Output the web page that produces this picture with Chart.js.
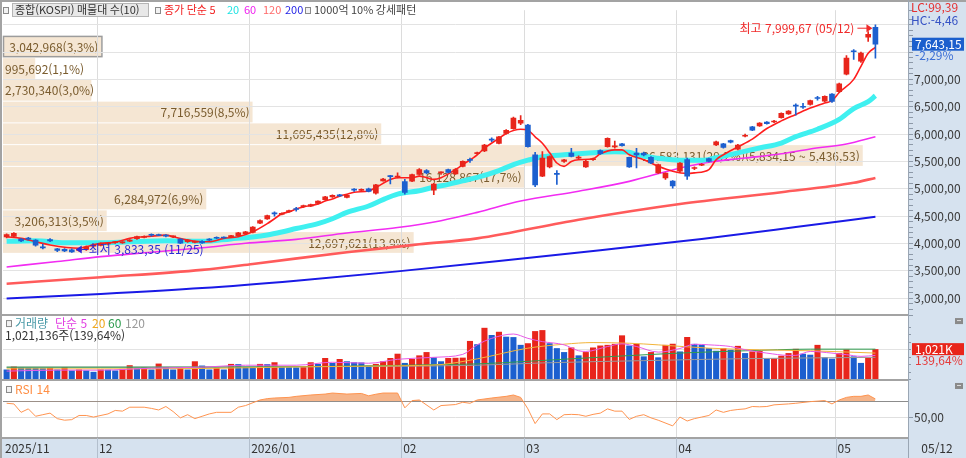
<!DOCTYPE html>
<html lang="ko">
<head>
<meta charset="UTF-8" />
<title>종합(KOSPI) 일봉</title>
<script src="https://cdn.jsdelivr.net/npm/chart.js"></script>
<style>
  html, body { margin: 0; padding: 0; background: #d6e2ef; }
  #wrap { width: 966px; height: 458px; position: relative; }
</style>
</head>
<body>
<div id="wrap"><canvas id="kospi"></canvas></div>
<script>
  // trading days shown, per month
  const tradingDays = [
    ['2025/11', [12,13,14,17,18,19,20,21,24,25,26,27,28]],
    ['2025/12', [1,2,3,4,5,8,9,10,11,12,15,16,17,18,19,22,23,24,26,29,30]],
    ['2026/01', [2,5,6,7,8,9,12,13,14,15,16,19,20,21,22,23,26,27,28,29,30]],
    ['2026/02', [2,3,4,5,6,9,10,11,12,13,19,20,23,24,25,26,27]],
    ['2026/03', [3,4,5,6,9,10,11,12,13,16,17,18,19,20,23,24,25,26,27,30,31]],
    ['2026/04', [1,2,3,6,7,8,9,10,13,14,15,16,17,20,21,22,23,24,27,28,29,30]],
    ['2026/05', [4,6,7,8,11,12]]
  ];
  const emptySlots = 4;
  const monthTickText = ['2025/11', '12', '2026/01', '02', '03', '04', '05'];

  const open = [4120,4130,4080,4090,4060,3935,4070,3900,3890,3885,3870,3890,3950,
    3965,3990,4015,4010,4040,4085,4110,4160,4160,4140,4120,4080,4030,4020,4040,4080,4110,4110,4120,4140,4180,
    4200,4370,4450,4550,4530,4580,4630,4670,4680,4730,4800,4850,4880,4840,4985,4970,5000,4920,5145,5240,5210,
    5130,5140,5260,5330,4975,5290,5350,5270,5410,5530,5640,5690,5900,5830,6010,6100,6200,
    6165,5620,5230,5400,5280,5500,5650,5560,5400,5530,5700,5770,5765,5820,5575,5650,5650,5575,5290,5200,5140,
    5320,5535,5370,5430,5550,5800,5820,5880,5725,5960,6130,6150,6220,6220,6300,6370,6530,6500,6540,6660,6600,6730,
    6775,7095,7515,7335,7770,7950];
  const high = [4175,4200,4095,4110,4070,3990,4090,3910,3905,3900,3905,3950,3990,
    4010,4015,4040,4035,4070,4135,4140,4175,4170,4160,4140,4090,4070,4045,4050,4090,4120,4120,4150,4205,4220,
    4310,4430,4520,4580,4560,4610,4660,4700,4720,4780,4860,4890,4900,4890,5005,5000,5010,5080,5190,5245,5290,
    5170,5270,5370,5350,5100,5310,5360,5370,5510,5560,5670,5810,5930,5960,6080,6310,6340,
    6180,5665,5680,5600,5330,5540,5740,5600,5520,5560,5710,5930,5870,5830,5580,5740,5670,5590,5450,5290,5150,
    5480,5560,5400,5460,5560,5870,5830,5890,5810,6000,6140,6210,6230,6250,6390,6430,6555,6560,6620,6690,6700,6740,
    6930,7435,7545,7500,7875,7999.67];
  const low = [4100,4110,4030,4060,3950,3900,4030,3850,3850,3833.35,3860,3870,3930,
    3955,3975,4000,4000,4030,4075,4100,4135,4140,4120,4105,3995,4020,4010,4000,4050,4085,4090,4110,4130,4170,
    4190,4360,4440,4500,4520,4570,4590,4660,4670,4720,4790,4840,4860,4830,4950,4960,4940,4900,5140,5090,5200,
    4900,5130,5250,5270,4890,5260,5290,5260,5400,5480,5630,5680,5860,5820,6000,6090,6170,
    5760,5040,5220,5380,5080,5480,5580,5540,5390,5520,5630,5760,5740,5780,5390,5380,5600,5460,5280,5170,5010,
    5300,5170,5350,5420,5490,5790,5740,5840,5710,5950,6060,6140,6180,6210,6290,6360,6345,6470,6530,6620,6590,6580,
    6760,7080,7365,7310,7695,7390];
  const close = [4160,4185,4045,4080,3970,3920,4045,3870,3865,3846.05,3890,3935,3975,
    4000,4005,4020,4025,4060,4125,4130,4150,4145,4135,4130,4005,4060,4035,4010,4060,4095,4100,4145,4195,4210,
    4300,4420,4510,4540,4550,4600,4620,4690,4710,4775,4850,4880,4870,4880,4975,4990,4950,5070,5175,5220,5230,
    4935,5260,5350,5290,5085,5300,5300,5350,5500,5520,5660,5800,5890,5950,6070,6290,6250,
    5770,5070,5560,5590,5260,5530,5590,5575,5500,5545,5640,5920,5780,5790,5400,5620,5620,5470,5440,5285,5050,
    5470,5230,5385,5445,5500,5860,5755,5850,5800,5975,6070,6200,6190,6235,6380,6420,6510,6490,6610,6650,6690,6595,
    6920,7390,7505,7480,7822.25,7643.15];
  // volume, thousand shares
  const volume = [347,445,410,402,398,392,402,347,423,315,347,315,270,
    347,340,315,369,489,402,410,347,543,424,347,424,347,619,478,347,402,347,532,525,434,
    430,532,525,587,424,420,415,424,587,532,728,565,695,619,587,580,478,532,619,728,870,
    565,695,815,924,750,619,728,735,740,1293,1185,1728,1489,1597,1434,1420,1163,
    1217,1619,1652,1217,1054,924,1076,815,924,1076,1141,1163,1196,1478,1141,1196,782,924,750,1163,1200,
    945,1424,1196,1163,1054,967,1054,1000,1130,891,945,967,706,715,804,891,1032,869,837,1163,750,706,
    891,1010,782,565,731.26,1021.136];

  // indicator lines: [bar index, value]
  const ma5 = [[0,4122],[2,4092],[4,4032],[6,3971],[10,3912],[11,3942],[13,4002],[15,4020],[17,4092],[20,4133],
    [22,4151],[23,4122],[25,4061],[27,4032],[28,4032],[30,4092],[32,4122],[34,4212],[36,4362],[37,4452],[38,4541],
    [39,4577],[40,4631],[41,4667],[43,4721],[44,4775],[45,4811],[46,4865],[47,4901],[48,4937],[50,4960],[51,5022],
    [53,5171],[54,5202],[56,5202],[57,5230],[58,5202],[59,5171],[60,5202],[62,5351],[63,5441],[65,5621],[66,5741],
    [68,5921],[69,6011],[71,6088],[72,6070],[73,5950],[74,5831],[75,5657],[76,5471],[77,5410],[78,5500],[79,5531],
    [81,5549],[82,5639],[84,5711],[85,5711],[86,5621],[88,5531],[90,5410],[92,5320],[94,5279],[95,5291],[97,5351],
    [98,5531],[99,5621],[101,5764],[103,5908],[105,6101],[107,6241],[109,6358],[111,6475],[113,6568],[114,6610],
    [115,6759],[117,7000],[118,7239],[119,7479],[120,7586]];
  const ma20 = [[0,4038],[4,4047],[8,4011],[13,4011],[17,4029],[22,4047],[27,4038],[31,4083],[34,4119],[36,4155],
    [38,4209],[40,4272],[43,4362],[45,4452],[47,4568],[50,4685],[52,4802],[54,4901],[57,4964],[59,5027],[61,5081],
    [63,5144],[65,5207],[68,5333],[70,5441],[72,5522],[74,5585],[77,5621],[80,5648],[84,5675],[86,5666],[87,5621],
    [90,5558],[93,5522],[96,5522],[98,5567],[101,5657],[104,5746],[107,5836],[109,5953],[112,6088],[115,6268],
    [117,6466],[119,6592],[120,6700]];
  const ma60 = [[0,3570],[7,3669],[13,3759],[20,3840],[27,3921],[33,4002],[40,4074],[47,4191],[54,4290],[60,4416],
    [65,4568],[71,4775],[79,4955],[86,5135],[93,5381],[97,5486],[102,5561],[107,5639],[111,5728],[116,5818],[120,5950]];
  const ma120 = [[0,3264],[13,3381],[27,3516],[34,3624],[47,3840],[57,3984],[65,4092],[79,4434],[93,4721],
    [107,4937],[117,5108],[120,5198]];
  const ma200 = [[0,2995],[13,3076],[27,3183],[40,3318],[54,3489],[68,3678],[82,3876],[96,4083],[109,4299],[120,4487]];

  const vma5 = [[0,293],[7,326],[13,326],[20,391],[27,424],[33,489],[40,489],[45,587],[50,554],[54,685],[59,750],
    [63,848],[65,1164],[67,1379],[70,1522],[72,1379],[74,1271],[77,1164],[79,968],[80,945],[83,1108],[85,1196],
    [87,1108],[90,923],[93,1043],[95,1183],[97,1164],[100,1108],[102,1001],[105,890],[108,815],[109,815],[111,945],
    [114,890],[116,838],[118,782],[120,815]];
  const vma20 = [[0,369],[13,369],[27,380],[40,434],[54,470],[60,511],[65,700],[72,1054],[77,1185],[81,1239],
    [86,1217],[90,1163],[97,1054],[104,1000],[111,967],[120,891]];
  const vma60 = [[0,424],[27,424],[47,456],[60,511],[65,532],[72,619],[84,782],[93,891],[102,967],[111,1021],[120,1021]];
  const vma120 = [[0,424],[40,440],[65,489],[74,565],[88,641],[102,706],[120,750]];

  const rsi14 = [[0,67.5],[1,66.7],[2,56],[3,60.4],[4,51],[5,53],[6,55],[7,48],[8,46],[9,46.7],[10,52],[11,52],[12,50],
    [14,54],[15,58.4],[16,57.5],[17,62.5],[19,62.5],[20,61],[21,59],[22,63.4],[23,57],[24,49],[25,53],[26,48],[27,51],
    [28,54],[29,56],[31,56],[32,62.5],[33,64.6],[35,71.7],[36,73.4],[37,74.2],[39,75],[40,76.3],[42,78],[44,79.2],
    [45,80.5],[47,79.2],[49,80],[50,77],[51,79],[52,80.5],[54,80.5],[55,61.7],[56,70.9],[57,71.7],[59,59],[60,64.6],
    [62,65.9],[63,68.8],[64,67.5],[65,71.7],[67,74.2],[69,76.3],[70,78],[71,75],[72,60.4],[73,41.7],[74,54],[75,54],
    [76,46.7],[77,53],[78,53.4],[79,53],[80,51],[81,53.4],[82,55],[83,60.4],[84,57.5],[85,57.5],[86,47],[87,51],
    [88,53],[89,49],[90,46],[92,38.8],[93,50],[94,45],[95,48],[96,50],[97,52],[98,59],[99,56],[100,58.4],[101,59.6],
    [102,60.4],[103,63.4],[104,63],[105,63.4],[106,65.5],[108,66.7],[109,67.5],[111,69.6],[113,70.9],[114,66.7],
    [115,71.7],[116,75],[117,76.3],[118,76.3],[119,78],[120,73]];

  // 매물대 (volume by price), 10 bands from lowest to highest close
  const profileEdges = [3846.05,4243.67,4641.29,5038.91,5436.53,5834.15,6231.77,6629.39,7027.01,7424.63,7822.25];
  const profileVolume = [12697621,3206313,6284972,16128867,26583131,11695435,7716559,2730340,995692,3042968];
  const profilePct = ['13,9','3,5','6,9','17,7','29,2','12,8','8,5','3,0','1,1','3,3'];

  const FONT = "'Noto Sans CJK KR', 'Noto Sans', sans-serif";
  const UP = '#e8251b', DOWN = '#1c5fcf';

  const labels = [];
  const monthStart = [];
  tradingDays.forEach(([ym, days]) => {
    monthStart.push(labels.length);
    days.forEach(d => labels.push(ym.slice(5) + '/' + String(d).padStart(2, '0')));
  });
  for (let i = 0; i < emptySlots; i++) labels.push(' '.repeat(i + 1));

  const sparse = pairs => {
    const a = new Array(close.length).fill(null);
    pairs.forEach(([i, v]) => { a[i] = v; });
    return a;
  };
  const fmt2 = v => v.toLocaleString('en-US', { minimumFractionDigits: 2, maximumFractionDigits: 2 }).replace(/\.(\d\d)$/, ',$1');
  const pct2 = v => v.toFixed(2).replace('.', ',');
  const candleColor = close.map((c, i) => c >= open[i] ? UP : DOWN);
  const volColor = volume.map((v, i) => i > 0 && v > volume[i - 1] ? UP : DOWN);
  const clear = 'rgba(0,0,0,0)';

  function lineSet(label, pairs, color, width, axis, order) {
    return { type: 'line', label, data: sparse(pairs), borderColor: color, borderWidth: width,
      pointRadius: 0, spanGaps: true, cubicInterpolationMode: 'monotone', yAxisID: axis, order };
  }

  function txt(ctx, s, x, y, color, align) {
    ctx.fillStyle = color;
    ctx.textAlign = align || 'left';
    ctx.fillText(s, x, y);
  }
  function marker(ctx, x, y) {
    ctx.fillStyle = '#f2f2f2';
    ctx.fillRect(x, y - 3, 5, 6);
    ctx.strokeStyle = '#8a8a8a';
    ctx.lineWidth = 1;
    ctx.strokeRect(x + 0.5, y - 2.5, 5, 6);
  }

  const backdrop = {
    id: 'backdrop',
    beforeDraw(chart) {
      const { ctx, chartArea: a, scales: { y } } = chart;
      ctx.save();
      ctx.fillStyle = '#d6e2ef';
      ctx.fillRect(0, 0, chart.width, chart.height);
      ctx.fillStyle = '#ffffff';
      ctx.fillRect(0, 0, a.right, a.bottom);

      const maxVol = Math.max(...profileVolume);
      const full = (a.right - a.left) * 0.95;
      const last = close[close.length - 1];
      ctx.font = '12px ' + FONT;
      ctx.textBaseline = 'middle';
      profileVolume.forEach((v, k) => {
        const top = y.getPixelForValue(profileEdges[k + 1]) + 1;
        const bot = y.getPixelForValue(profileEdges[k]) + 1;
        const w = full * v / maxVol;
        ctx.fillStyle = '#f5e6d3';
        ctx.fillRect(a.left, top + 1, w, bot - top - 1);
        if (last >= profileEdges[k] && last < profileEdges[k + 1]) {
          ctx.strokeStyle = '#9c9c9c';
          ctx.lineWidth = 1.5;
          ctx.strokeRect(a.left + 0.5, top + 1, w, bot - top - 1.5);
        }
        let s = v.toLocaleString('en-US') + '(' + profilePct[k] + '%)';
        if (v === maxVol) s += '(' + fmt2(profileEdges[k + 1]) + ' ~ ' + fmt2(profileEdges[k]) + ')';
        const right = Math.max(a.left + w - 3, a.left + 2 + ctx.measureText(s).width);
        txt(ctx, s, right, (top + bot) / 2 + 1, '#7a5c2e', 'right');
      });
      ctx.restore();
    }
  };

  const overlay = {
    id: 'overlay',
    afterDraw(chart) {
      const { ctx, chartArea: a, scales: { x, y, yv, yr } } = chart;
      const step = x.getPixelForValue(1) - x.getPixelForValue(0);
      ctx.save();
      ctx.font = '12px ' + FONT;
      ctx.textBaseline = 'middle';

      // frame and panel separators
      ctx.strokeStyle = '#a3a3a3';
      ctx.lineWidth = 2;
      [y.bottom, yv.bottom, yr.bottom].forEach(py => {
        ctx.beginPath(); ctx.moveTo(0, py); ctx.lineTo(a.right, py); ctx.stroke();
      });
      ctx.beginPath(); ctx.moveTo(0, 1); ctx.lineTo(chart.width, 1); ctx.stroke();
      ctx.beginPath(); ctx.moveTo(1, 0); ctx.lineTo(1, chart.height); ctx.stroke();
      ctx.lineWidth = 1;
      ctx.strokeStyle = '#9aa6b4';
      ctx.beginPath(); ctx.moveTo(a.right + 0.5, 0); ctx.lineTo(a.right + 0.5, chart.height); ctx.stroke();

      // date band
      monthStart.forEach((m, k) => {
        const edge = m === 0 ? a.left : x.getPixelForValue(m) - step / 2;
        if (m > 0) {
          ctx.strokeStyle = '#b3bfcd';
          ctx.beginPath(); ctx.moveTo(Math.round(edge) + 0.5, a.bottom); ctx.lineTo(Math.round(edge) + 0.5, chart.height); ctx.stroke();
        }
        txt(ctx, monthTickText[k], edge + 2, a.bottom + 10, '#333');
      });
      txt(ctx, labels[close.length - 1], (a.right + chart.width) / 2, a.bottom + 10, '#333', 'center');

      // legends
      ctx.font = '11px ' + FONT;
      marker(ctx, 3, 10);
      ctx.fillStyle = '#e8e8e8';
      ctx.fillRect(12, 3, 137, 14);
      ctx.strokeStyle = '#b5b5b5';
      ctx.strokeRect(12.5, 3.5, 136, 13);
      txt(ctx, '종합(KOSPI) 매물대 수(10)', 15, 10, '#333');
      marker(ctx, 155, 10);
      txt(ctx, '종가 단순 5', 164, 10, '#f21d1d');
      txt(ctx, '20', 227, 10, '#1fe3e3');
      txt(ctx, '60', 244, 10, '#f020f0');
      txt(ctx, '120', 263, 10, '#ff6a6a');
      txt(ctx, '200', 285, 10, '#2424e6');
      marker(ctx, 305, 10);
      txt(ctx, '1000억 10% 강세패턴', 314, 10, '#444');

      ctx.font = '12px ' + FONT;
      const vTop = yv.top;
      marker(ctx, 6, vTop + 8);
      txt(ctx, '거래량', 15, vTop + 8, '#4a9aa8');
      txt(ctx, '단순 5', 55, vTop + 8, '#e23fe2');
      txt(ctx, '20', 92, vTop + 8, '#f0a81e');
      txt(ctx, '60', 108, vTop + 8, '#2e9c4e');
      txt(ctx, '120', 125, vTop + 8, '#999');
      const lastVol = volume[volume.length - 1], prevVol = volume[volume.length - 2];
      const volPct = pct2(lastVol / prevVol * 100) + '%';
      txt(ctx, Math.round(lastVol * 1000).toLocaleString('en-US') + '주(' + volPct + ')', 5, vTop + 20, '#333');

      marker(ctx, 6, yr.top + 9);
      txt(ctx, 'RSI 14', 15, yr.top + 9, '#ff8f45');

      // right panel texts and badges
      const last = close.length - 1;
      const lowIdx = low.indexOf(Math.min(...low));
      const highIdx = high.indexOf(Math.max(...high));
      txt(ctx, 'LC:' + pct2((close[last] / low[lowIdx] - 1) * 100), a.right + 3, 7, '#e53030');
      txt(ctx, 'HC:' + pct2((close[last] / high[highIdx] - 1) * 100), a.right + 3, 20, '#3552c4');
      const py = y.getPixelForValue(close[last]);
      ctx.fillStyle = '#1b5fcd';
      ctx.fillRect(a.right + 4, py - 6.5, 52, 13);
      txt(ctx, fmt2(close[last]), a.right + 7, py, '#fff');
      txt(ctx, pct2((close[last] / close[last - 1] - 1) * 100) + '%', a.right + 7, py + 11, '#3c6fd6');

      const vy = yv.getPixelForValue(lastVol);
      ctx.fillStyle = '#e8251b';
      ctx.fillRect(a.right + 4, vy - 6, 52, 12);
      txt(ctx, Math.round(lastVol).toLocaleString('en-US') + 'K', a.right + 7, vy, '#fff');
      txt(ctx, volPct, a.right + 7, vy + 11, '#e53a3a');

      [yv.top + 6, yr.top + 6].forEach(iy => {
        ctx.fillStyle = '#8a8a8a';
        ctx.fillRect(chart.width - 11, iy - 3, 8, 6);
        ctx.fillStyle = '#ddd';
        ctx.fillRect(chart.width - 9, iy - 1, 4, 1);
      });

      // highest / lowest marks
      const hx = x.getPixelForValue(highIdx), hy = y.getPixelForValue(high[highIdx]) + 3.5;
      ctx.strokeStyle = '#f02a2a'; ctx.fillStyle = '#f02a2a'; ctx.lineWidth = 1;
      ctx.beginPath(); ctx.moveTo(hx - 18, hy); ctx.lineTo(hx - 8, hy); ctx.stroke();
      ctx.beginPath(); ctx.moveTo(hx - 3, hy); ctx.lineTo(hx - 9, hy - 4); ctx.lineTo(hx - 9, hy + 4); ctx.closePath(); ctx.fill();
      txt(ctx, '최고 ' + fmt2(high[highIdx]) + ' (' + labels[highIdx] + ')', hx - 21, hy, '#f02a2a', 'right');

      const lx = x.getPixelForValue(lowIdx), ly = y.getPixelForValue(low[lowIdx]) - 3;
      ctx.strokeStyle = '#2b2bd6'; ctx.fillStyle = '#2b2bd6';
      ctx.beginPath(); ctx.moveTo(lx + 4, ly); ctx.lineTo(lx + 10, ly - 4); ctx.lineTo(lx + 10, ly + 4); ctx.closePath(); ctx.fill();
      ctx.beginPath(); ctx.moveTo(lx + 10, ly); ctx.lineTo(lx + 16, ly); ctx.stroke();
      txt(ctx, '최저 ' + fmt2(low[lowIdx]) + ' (' + labels[lowIdx] + ')', lx + 17, ly, '#2b2bd6');
      ctx.restore();
    }
  };

  const tickFont = { family: FONT, size: 12 };

  new Chart(document.getElementById('kospi'), {
    type: 'bar',
    data: {
      labels,
      datasets: [
        { type: 'bar', label: '시가-종가', data: open.map((o, i) => [o, close[i]]), backgroundColor: candleColor,
          barThickness: 5, minBarLength: 1, grouped: false, yAxisID: 'y', order: 0 },
        { type: 'bar', label: '저가-고가', data: low.map((l, i) => [l, high[i]]), backgroundColor: candleColor,
          barThickness: 1, grouped: false, yAxisID: 'y', order: 1 },
        lineSet('종가 단순 5', ma5, '#ff1e1e', 1.6, 'y', 2),
        lineSet('20', ma20, '#3ff0f0', 5, 'y', 3),
        lineSet('60', ma60, '#f22cf2', 1.6, 'y', 4),
        lineSet('120', ma120, '#ff5b5b', 2.6, 'y', 5),
        lineSet('200', ma200, '#1a1ae6', 2, 'y', 6),
        lineSet('거래량 단순 5', vma5, '#e85ae8', 1, 'yv', 7),
        lineSet('거래량 20', vma20, '#f2b43a', 1, 'yv', 8),
        lineSet('거래량 60', vma60, '#2f9c4f', 1, 'yv', 9),
        lineSet('거래량 120', vma120, '#9a9a9a', 1, 'yv', 10),
        { type: 'bar', label: '거래량', data: volume, backgroundColor: volColor, barPercentage: 0.84,
          categoryPercentage: 1, grouped: false, yAxisID: 'yv', order: 11 },
        { type: 'line', label: 'RSI 14', data: sparse(rsi14), borderColor: '#ff9450', borderWidth: 1,
          pointRadius: 0, spanGaps: true, tension: 0, yAxisID: 'yr', order: 12,
          fill: { target: { value: 70 }, above: 'rgba(244,168,118,0.85)', below: clear } }
      ]
    },
    options: {
      responsive: true,
      maintainAspectRatio: false,
      animation: false,
      layout: { padding: { left: 3, top: 3, right: 0, bottom: 0 } },
      plugins: { legend: { display: false }, tooltip: { enabled: false } },
      scales: {
        x: {
          type: 'category', offset: true,
          grid: { offset: true, drawTicks: false,
            color: c => monthStart.includes(c.index) && c.index > 0 ? '#dcdcdc' : clear },
          ticks: { display: false },
          border: { display: false },
          afterFit: s => { s.height = 20; }
        },
        y: {
          type: 'linear', position: 'right', stack: 'panes', stackWeight: 310,
          min: 2690, max: 8265,
          afterFit: s => { s.width = 58; },
          border: { color: '#9aa6b4' },
          grid: { color: c => c.tick && c.tick.value % 500 === 0 ? '#e3e3e3' : clear, tickColor: '#8d99a8', tickLength: 5 },
          ticks: { stepSize: 100, autoSkip: false, padding: 1, color: '#3a3a3a', font: tickFont,
            callback: v => v % 500 === 0 && v >= 3000 && v <= 7000 ? fmt2(v) : '' }
        },
        yv: {
          type: 'linear', position: 'right', stack: 'panes', stackWeight: 66,
          min: 0, max: 2150,
          afterFit: s => { s.width = 58; },
          border: { color: '#9aa6b4' },
          grid: { color: c => c.tick && c.tick.value === 1000 ? '#e3e3e3' : clear, tickColor: '#8d99a8', tickLength: 3 },
          ticks: { stepSize: 250, autoSkip: false, callback: () => '' }
        },
        yr: {
          type: 'linear', position: 'right', stack: 'panes', stackWeight: 59,
          min: 23.4, max: 97.1,
          afterFit: s => { s.width = 58; },
          border: { color: '#9aa6b4' },
          grid: {
            color: c => !c.tick ? clear : c.tick.value === 70 ? '#8c8c8c' : c.tick.value === 50 ? '#e0e0e0' : clear,
            tickColor: c => c.tick && c.tick.value === 50 ? '#8d99a8' : clear, tickLength: 5
          },
          ticks: { stepSize: 10, autoSkip: false, padding: 1, color: '#3a3a3a', font: tickFont,
            callback: v => v === 50 ? '50,00' : '' }
        }
      }
    },
    plugins: [backdrop, overlay]
  });
</script>
</body>
</html>
